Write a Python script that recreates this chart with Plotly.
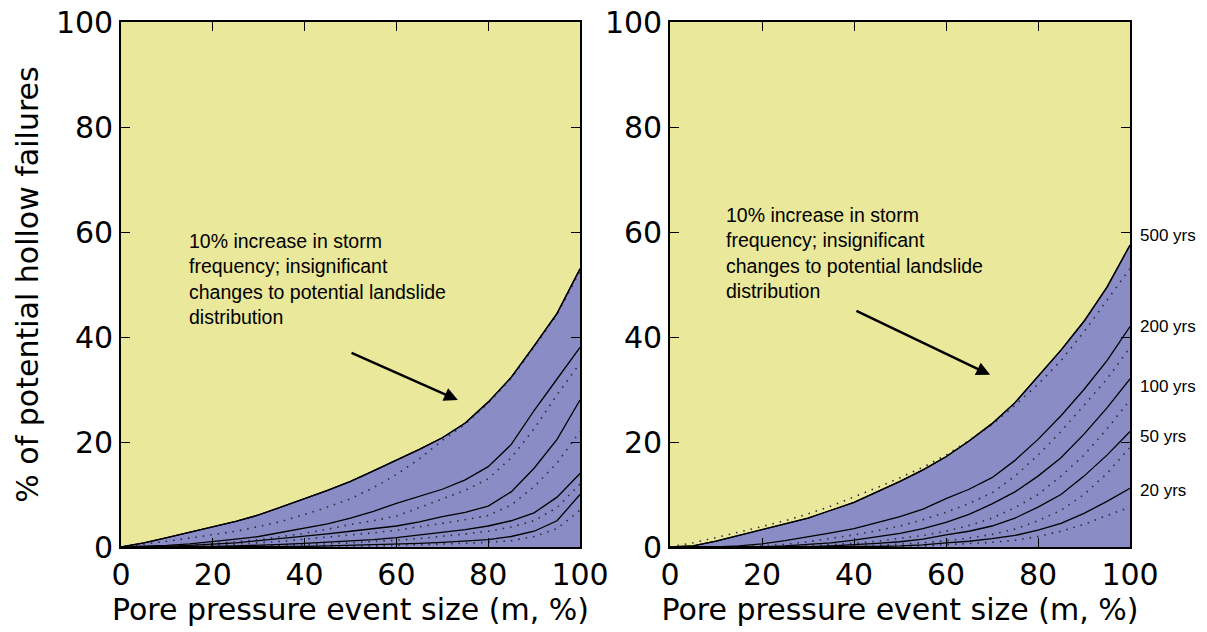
import plotly.graph_objects as go

# ---------------- data ----------------
x_vals = [0, 5, 10, 15, 20, 25, 30, 35, 40, 45, 50, 55, 60, 65, 70, 75, 80, 85, 90, 95, 100]

# left panel (solid = return period curves, dotted = comparison)
left_s500 = [0, 0.8, 1.8, 2.8, 3.8, 4.9, 6.1, 7.6, 9.2, 10.8, 12.5, 14.5, 16.5, 18.6, 20.8, 23.6, 27.6, 32.3, 38.3, 44.5, 53]
left_d500 = [0, 0.5, 1.1, 1.7, 2.3, 3, 3.9, 4.9, 6.2, 7.6, 9.2, 11.3, 13.8, 16.8, 20.3, 23.4, 27.4, 32.1, 38.1, 44.3, 52.5]
left_s200 = [0, 0.1, 0.3, 0.6, 1, 1.5, 2, 2.8, 3.6, 4.4, 5.5, 6.8, 8.3, 9.7, 11, 12.8, 15.3, 19.5, 26, 32, 38]
left_d200 = [0, 0, 0.1, 0.3, 0.6, 1, 1.4, 2, 2.6, 3.4, 4.3, 5, 5.9, 7.5, 9.2, 10.8, 13, 17, 22.5, 29, 35]
left_s100 = [0, 0, 0.1, 0.3, 0.5, 0.8, 1.2, 1.6, 2, 2.5, 3, 3.5, 4, 4.8, 5.8, 6.6, 7.8, 10.5, 15, 20.5, 28]
left_d100 = [0, 0, 0, 0.1, 0.3, 0.5, 0.8, 1.1, 1.5, 1.8, 2.2, 2.7, 3.2, 3.8, 4.5, 5.2, 6, 8, 11.5, 16, 22]
left_s50 = [0, 0, 0, 0, 0.1, 0.2, 0.3, 0.5, 0.7, 0.9, 1.1, 1.4, 1.8, 2.3, 2.8, 3.3, 4, 5, 6.5, 9.5, 14]
left_d50 = [0, 0, 0, 0, 0, 0.1, 0.2, 0.3, 0.4, 0.6, 0.8, 1, 1.3, 1.6, 2, 2.5, 3, 3.8, 5, 7.5, 12]
left_s20 = [0, 0, 0, 0, 0, 0, 0, 0.1, 0.1, 0.2, 0.3, 0.4, 0.5, 0.7, 0.9, 1.1, 1.4, 2, 3, 5, 10]
left_d20 = [0, 0, 0, 0, 0, 0, 0, 0, 0, 0.1, 0.1, 0.2, 0.3, 0.4, 0.5, 0.7, 0.9, 1.2, 2, 3.5, 7]

# right panel
right_s500 = [0, 0.2, 1.1, 2.2, 3.2, 4.3, 5.5, 7, 8.5, 10.5, 12.5, 14.7, 17.2, 20.2, 23.5, 27.5, 32.5, 37.5, 43, 49.5, 57.5]
right_d500 = [0, 0.8, 1.8, 2.8, 3.9, 5, 6.3, 7.8, 9.5, 11.3, 13.2, 15.2, 17.5, 20.3, 23.3, 27, 31, 35.5, 41, 47, 53]
right_s200 = [0, 0, 0, 0.2, 0.6, 1.2, 1.9, 2.7, 3.5, 4.6, 5.8, 7.2, 9.2, 11, 13.2, 16.5, 20.5, 25, 30, 35.5, 42]
right_d200 = [0, 0, 0, 0, 0.2, 0.5, 1, 1.6, 2.3, 3.1, 4, 5.2, 6.6, 8.3, 10.3, 13.5, 17.5, 22, 27, 32, 38]
right_s100 = [0, 0, 0, 0, 0, 0.2, 0.5, 0.8, 1.3, 1.9, 2.6, 3.5, 4.7, 6.2, 8.2, 10.5, 13.5, 17, 21.5, 26.5, 32]
right_d100 = [0, 0, 0, 0, 0, 0, 0.2, 0.4, 0.7, 1.1, 1.6, 2.2, 3, 4.1, 5.5, 7.5, 10, 13.5, 17.5, 22.5, 28]
right_s50 = [0, 0, 0, 0, 0, 0, 0, 0.2, 0.4, 0.7, 1, 1.5, 2.3, 3, 4, 5.5, 7.6, 10, 13.5, 17.5, 22]
right_d50 = [0, 0, 0, 0, 0, 0, 0, 0, 0.1, 0.3, 0.5, 0.8, 1.2, 1.7, 2.4, 3.4, 5, 7, 10, 14, 19]
right_s20 = [0, 0, 0, 0, 0, 0, 0, 0, 0, 0.1, 0.2, 0.4, 0.8, 1.1, 1.6, 2.2, 3.2, 4.5, 6.4, 8.7, 11.2]
right_d20 = [0, 0, 0, 0, 0, 0, 0, 0, 0, 0, 0.1, 0.2, 0.4, 0.6, 0.9, 1.3, 2, 3, 4.3, 6, 7.6]

return_labels = ["500 yrs", "200 yrs", "100 yrs", "50 yrs", "20 yrs"]
label_levels = [59.4, 42, 30.5, 21, 10.7]

note_text = "10% increase in storm<br>frequency; insignificant<br>changes to potential landslide<br>distribution"
x_title = "Pore pressure event size (m, %)"
y_title = "% of potential hollow failures"
tick_vals = [0, 20, 40, 60, 80, 100]

# ---------------- styling ----------------
YELLOW = "#EAE89B"
BLUE = "#8A8CC6"
W, H = 1207, 632

fig = go.Figure()

solid_line = dict(color="black", width=1.3)
dot_line = dict(color="#2a2a3a", width=1.6, dash="1.5px,6px")

panels = [
    ("x", "y", [left_s500, left_s200, left_s100, left_s50, left_s20],
     [left_d500, left_d200, left_d100, left_d50, left_d20]),
    ("x2", "y2", [right_s500, right_s200, right_s100, right_s50, right_s20],
     [right_d500, right_d200, right_d100, right_d50, right_d20]),
]

for xa, ya, solids, dots in panels:
    fig.add_trace(go.Scatter(x=x_vals, y=solids[0], xaxis=xa, yaxis=ya, mode="lines",
                             line=solid_line, fill="tozeroy", fillcolor=BLUE,
                             showlegend=False, hoverinfo="skip"))
    for d in dots:
        fig.add_trace(go.Scatter(x=x_vals, y=d, xaxis=xa, yaxis=ya, mode="lines",
                                 line=dot_line, showlegend=False, hoverinfo="skip"))
    for s in solids:
        fig.add_trace(go.Scatter(x=x_vals, y=s, xaxis=xa, yaxis=ya, mode="lines",
                                 line=solid_line, showlegend=False, hoverinfo="skip"))

axis_common = dict(range=[0, 100], tickvals=tick_vals, ticks="inside", ticklen=9, tickwidth=1.2,
                   tickcolor="black", showline=True, linecolor="black", linewidth=1.6, mirror="ticks",
                   showgrid=False, zeroline=False, automargin=False,
                   tickfont=dict(family="DejaVu Sans", size=30, color="black"))

xd1 = [121 / W, 580 / W]
xd2 = [670 / W, 1130 / W]
yd = [1 - 547 / H, 1 - 22 / H]
title_font = dict(family="DejaVu Sans", size=30, color="black")

fig.update_layout(
    width=W, height=H,
    margin=dict(l=0, r=0, t=0, b=0, autoexpand=False),
    paper_bgcolor="white",
    plot_bgcolor=YELLOW,
    xaxis=dict(domain=xd1, anchor="y", **axis_common,
               title=dict(text=x_title, font=title_font, standoff=8)),
    yaxis=dict(domain=yd, anchor="x", **axis_common,
               title=dict(text=y_title, font=title_font, standoff=8)),
    xaxis2=dict(domain=xd2, anchor="y2", **axis_common,
                title=dict(text=x_title, font=title_font, standoff=8)),
    yaxis2=dict(domain=yd, anchor="x2", **axis_common),
)

note_font = dict(family="Liberation Sans, Arial", size=19.5, color="black")
fig.add_annotation(x=14.4, y=60.8, xref="x", yref="y", text=note_text, showarrow=False,
                   xanchor="left", yanchor="top", align="left", font=note_font)
fig.add_annotation(x=11.7, y=65.8, xref="x2", yref="y2", text=note_text, showarrow=False,
                   xanchor="left", yanchor="top", align="left", font=note_font)

# arrows
fig.add_annotation(x=73.4, y=28, ax=49.9, ay=37.1, xref="x", yref="y", axref="x", ayref="y",
                   text="", showarrow=True, arrowhead=2, arrowsize=1.1, arrowwidth=2.5, arrowcolor="black")
fig.add_annotation(x=69.6, y=32.8, ax=40.2, ay=45.1, xref="x2", yref="y2", axref="x2", ayref="y2",
                   text="", showarrow=True, arrowhead=2, arrowsize=1.1, arrowwidth=2.5, arrowcolor="black")

for lab, lev in zip(return_labels, label_levels):
    fig.add_annotation(x=1138 / W, y=lev, xref="paper", yref="y2", text=lab, showarrow=False,
                       xanchor="left", yanchor="middle",
                       font=dict(family="Liberation Sans, Arial", size=17, color="black"))

fig.write_html("out.html")
